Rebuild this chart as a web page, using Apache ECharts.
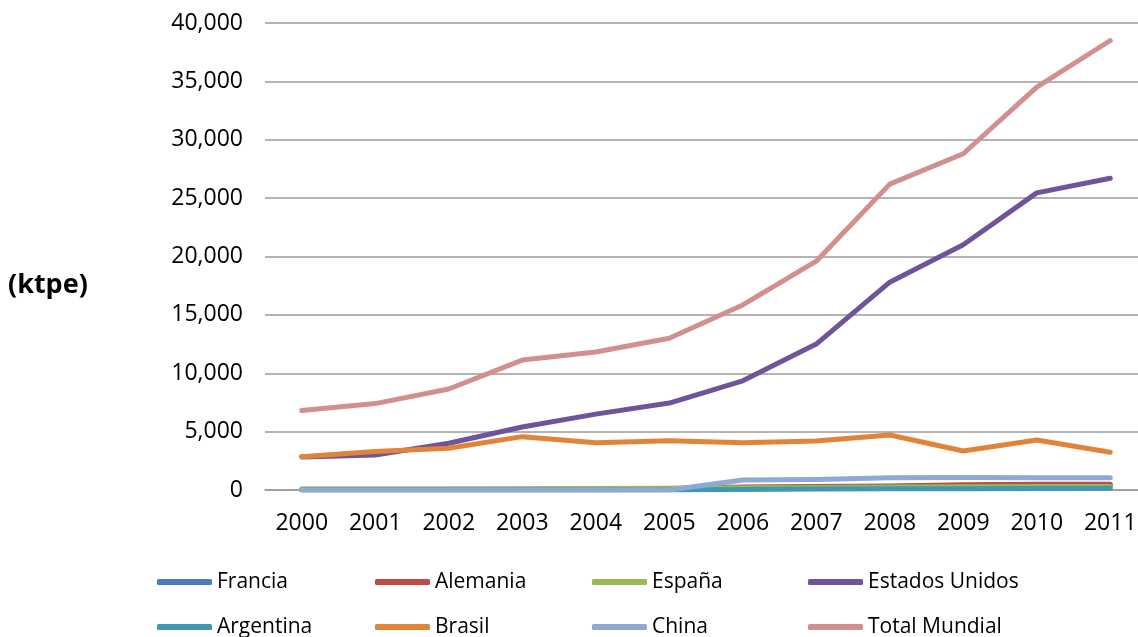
<!DOCTYPE html>
<html><head><meta charset="utf-8">
<script src="https://cdn.jsdelivr.net/npm/echarts@6/dist/echarts.min.js"></script>
<style>html,body{margin:0;padding:0;background:#fff}#c{width:1138px;height:637px}</style>
</head><body><div id="c"></div>
<script>
const years = ['2000','2001','2002','2003','2004','2005','2006','2007','2008','2009','2010','2011'];
const francia = [20,20,20,20,20,40,150,250,300,350,350,380];
const alemania = [60,60,60,70,80,120,250,300,350,450,500,500];
const espana = [80,80,80,110,120,150,200,220,250,280,300,300];
const estadosUnidos = [2830,3000,4000,5400,6500,7450,9350,12500,17800,21000,25450,26700];
const argentina = [0,0,0,0,0,0,50,80,100,100,120,150];
const brasil = [2850,3300,3570,4570,4050,4220,4050,4200,4710,3340,4280,3230];
const china = [0,0,0,0,0,0,860,900,1050,1080,1050,1050];
const totalMundial = [6800,7400,8650,11130,11820,13000,15850,19600,26200,28800,34500,38500];
const yTicks = {min:0,max:40000,interval:5000};

const names = ['Francia','Alemania','España','Estados Unidos','Argentina','Brasil','China','Total Mundial'];
const datas = [francia,alemania,espana,estadosUnidos,argentina,brasil,china,totalMundial];
const colors = ['#4a7ebb','#be4b48','#98b954','#6f539b','#4198b5','#e0843a','#8ea9d2','#d28f8e'];

const font = 'Open Sans';
const legendX = [157,375,592,808];
const legendY = [571,616];
const legends = names.map((n,i)=>({data:[n],left:legendX[i%4],top:legendY[Math.floor(i/4)],
  padding:0,itemWidth:55,itemHeight:6,icon:'roundRect',
  textStyle:{fontFamily:font,fontSize:21,color:'#000',lineHeight:22}}));

const chart = echarts.init(document.getElementById('c'));
chart.setOption({
  animation:false,
  grid:{left:265,width:882,top:23,bottom:147,outerBoundsMode:'none',containLabel:false},
  graphic:[{type:'text',left:8,top:272,style:{text:'(ktpe)',font:'bold 27px "Open Sans"',fill:'#000'}}],
  legend:legends,
  xAxis:{type:'category',data:years,boundaryGap:true,
    axisLine:{lineStyle:{color:'#9a9a9a',width:1.5}},axisTick:{show:false},
    axisLabel:{fontFamily:font,fontSize:23,color:'#000',margin:22}},
  yAxis:{type:'value',min:yTicks.min,max:yTicks.max,interval:yTicks.interval,
    axisLine:{show:false},axisTick:{show:false},
    splitLine:{lineStyle:{color:'#9a9a9a',width:1.5}},
    axisLabel:{fontFamily:font,fontSize:23,color:'#000',margin:22}},
  series:names.map((n,i)=>({name:n,type:'line',data:datas[i],symbol:'none',
    lineStyle:{width:5,color:colors[i],cap:'round',join:'round'},itemStyle:{color:colors[i]}}))
});
</script></body></html>
